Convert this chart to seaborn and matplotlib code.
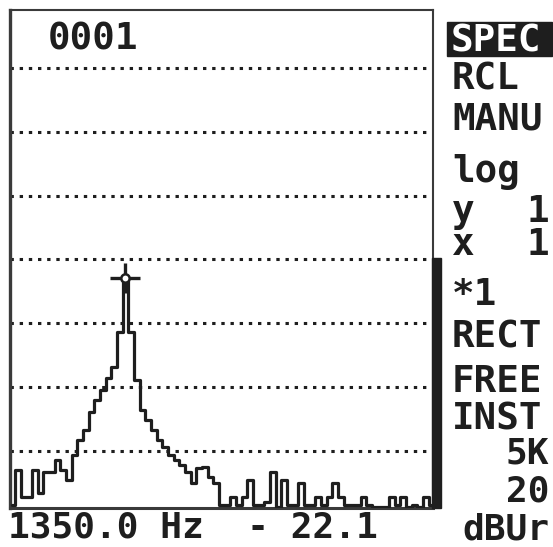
import numpy as np
import pandas as pd
import seaborn as sns
import matplotlib.pyplot as plt
from matplotlib.patches import Rectangle

# spectrum bins, 67.5 Hz apart (0 - 4995 Hz), levels in dBUr
bin_hz = np.arange(75) * 67.5
level_db = [-13.5, -8.0, -12.3, -12.3, -8.0, -11.6, -8.4, -8.4, -6.5, -8.0,
            -9.6, -5.7, -3.3, -1.8, 1.0, 2.9, 4.5, 6.4, 8.1, 13.6,
            22.1, 13.6, 6.1, 1.4, -0.2, -1.8, -3.3, -4.4, -5.7, -6.5,
            -7.3, -8.4, -10.1, -7.7, -7.6, -9.1, -10.1, -13.5, -13.5, -12.3,
            -13.5, -12.3, -9.6, -13.5, -13.5, -13.1, -8.4, -13.8, -9.6, -13.5,
            -13.5, -10.1, -13.5, -13.5, -12.3, -13.5, -12.3, -10.1, -12.3, -13.5,
            -13.5, -13.5, -12.3, -13.5, -13.8, -13.8, -13.8, -12.3, -13.5, -12.3,
            -13.8, -13.5, -13.8, -12.3, -13.5]
marker_hz = 1350.0
marker_db = 22.1
grid_db = [-5, 5, 15, 25, 35, 45, 55]

# softkey / status labels: (text, x px, baseline px, align)
panel_labels = [("RCL", 452, 90, "left"), ("MANU", 452, 130, "left"),
                ("log", 452, 182, "left"), ("y", 452, 222, "left"),
                ("1", 549, 222, "right"), ("x", 452, 255, "left"),
                ("1", 549, 255, "right"), ("*1", 452, 305, "left"),
                ("RECT", 452, 347, "left"), ("FREE", 452, 392, "left"),
                ("INST", 452, 430, "left")]
scale_labels = ["5K", "20", "dBUr"]
readout = "1350.0 Hz  - 22.1"
counter = "0001"

W, H = 553, 547
ink = "#1e1e1e"
sns.set_style("white")
plt.rcParams["font.family"] = ["DejaVu Sans Mono"]
plt.rcParams["font.weight"] = "bold"

fig = plt.figure(figsize=(W / 100, H / 100), dpi=100)
fig.patch.set_facecolor("white")
ax = fig.add_axes([10 / W, 1 - 508 / H, 423 / W, 498 / H])

df = pd.DataFrame({"hz": bin_hz, "db": level_db})
sns.lineplot(data=df, x="hz", y="db", ax=ax, color=ink, lw=2.3,
             drawstyle="steps-mid", estimator=None, zorder=3)

ax.plot([marker_hz], [marker_db], marker="+", ms=21, mew=2.4, color=ink, zorder=4)
ax.plot([marker_hz], [marker_db], marker="o", ms=6, mew=1.8, mfc="white",
        mec=ink, zorder=5)

ax.set_xlim(-24, 5012)
ax.set_ylim(-14, 64.1)
ax.set_yticks(grid_db)
ax.set_xticks([])
ax.set_yticklabels([])
ax.tick_params(length=0)
ax.set_xlabel("")
ax.set_ylabel("")
ax.grid(axis="y", color=ink, lw=2.2, linestyle=(0, (1.1, 1.9)),
        dash_capstyle="butt")
for side, lw in [("left", 2.4), ("top", 1.5), ("bottom", 2.2), ("right", 1.5)]:
    ax.spines[side].set_linewidth(lw)
    ax.spines[side].set_color("#3a3a3a")

# level bar on the right edge of the screen
fig.patches.append(Rectangle((432 / W, 1 - 508 / H), 9 / W, 250 / H,
                             transform=fig.transFigure, color=ink, zorder=5))
# highlighted SPEC softkey
fig.patches.append(Rectangle((447 / W, 1 - 56 / H), 105 / W, 34 / H,
                             transform=fig.transFigure, color=ink, zorder=5))
fig.text(451 / W, 1 - 52 / H, "SPEC", color="white", fontsize=27,
         va="baseline", ha="left", zorder=6)

for txt, x, y, ha in panel_labels:
    fig.text(x / W, 1 - y / H, txt, color=ink, fontsize=27, va="baseline", ha=ha)

fig.text(549 / W, 1 - 546 / H, "\n".join(scale_labels), color=ink, fontsize=26,
         ha="right", va="bottom", multialignment="right", linespacing=1.13)

fig.text(48 / W, 1 - 50 / H, counter, color=ink, fontsize=27, va="baseline")
fig.text(8 / W, 1 - 538 / H, readout, color=ink, fontsize=26, va="baseline")

fig.savefig("out.png", dpi=100)
